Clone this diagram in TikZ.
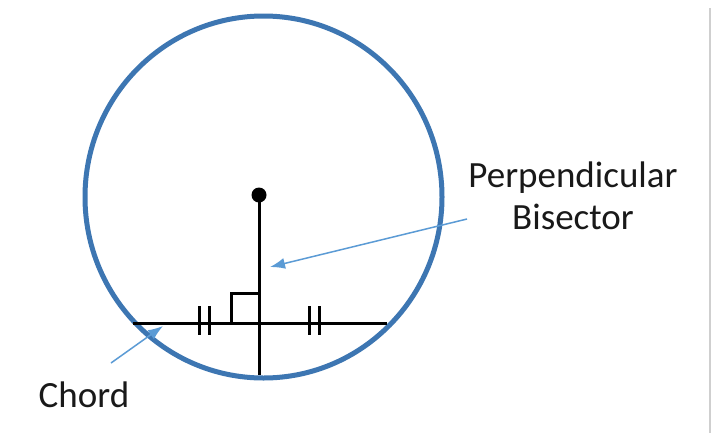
\documentclass[tikz,border=0pt]{standalone}
\usepackage{fontspec}
\setmainfont{Carlito}
\usetikzlibrary{arrows.meta}
\definecolor{circblue}{HTML}{3D76B2}
\definecolor{arrblue}{HTML}{5B9BD5}
\definecolor{rulegray}{HTML}{CFCFCF}
\begin{document}
\begin{tikzpicture}[x=1pt,y=-1pt,
  blk/.style={line width=3pt,black},
  callout/.style={arrblue,line width=1.5pt,-{Latex[length=15pt,width=11pt]}},
  lbl/.style={anchor=base,inner sep=0pt,font=\fontsize{37}{42}\selectfont,text=black!90}]
\useasboundingbox[fill=white] (0,0) rectangle (717,437);
% frame rule at right
\draw[rulegray,line width=2pt] (710,8) -- (710,433);
% circle
\draw[circblue,line width=5pt] (263.5,197) ellipse [x radius=178.5,y radius=181];
% centre and bisector
\node[circle,fill=black,inner sep=0pt,minimum size=15pt] (O) at (259,195) {};
\coordinate (M) at (259,323);
\coordinate (B) at (259,375);
\coordinate (L) at (133,323);
\coordinate (R) at (387,323);
\draw[blk] (O.center) -- (B);
\draw[blk] (L) -- (R);
% right-angle mark
\draw[blk] (231,323) -- (231,293) -- (259,293);
% tick marks
\draw[blk] (199,306) -- (199,335) (209,306) -- (209,335);
\draw[blk] (309,306) -- (309,335) (319,306) -- (319,335);
% labels
\node[lbl] (P1) at (573,187) {Perpendicular};
\node[lbl] (P2) at (573,229) {Bisector};
\node[lbl] (C) at (84,407) {Chord};
% callout arrows
\coordinate (PT) at (467,219);
\coordinate (PH) at (270,267);
\draw[callout] (PT) -- (PH);
\coordinate (CT) at (111,363);
\coordinate (CH) at (163,326);
\draw[callout] (CT) -- (CH);
\end{tikzpicture}
\end{document}
